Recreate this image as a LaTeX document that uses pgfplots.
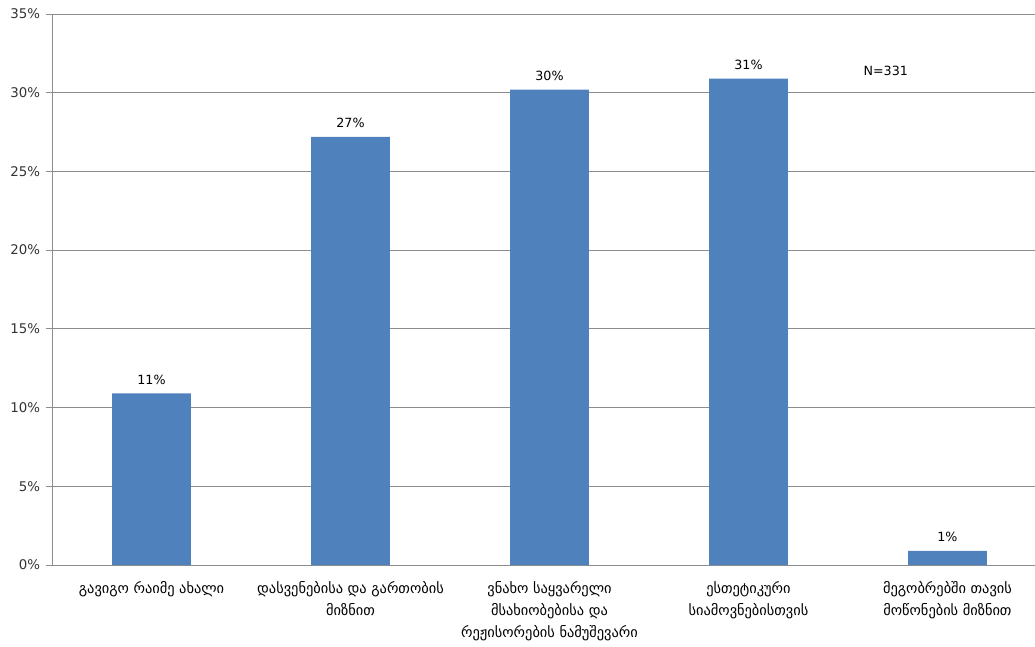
\documentclass[border=0pt]{standalone}
\usepackage{pgfplots}
\pgfplotsset{compat=1.18}
\usepackage{fontspec}
\setmainfont{DejaVu Sans}
\definecolor{barblue}{HTML}{4F81BD}
\definecolor{gridgray}{HTML}{8C8C8C}
\begin{document}
\begin{tikzpicture}
\useasboundingbox (-39pt,-60.75pt) rectangle (737.25pt,423.75pt);
\begin{axis}[
  at={(0,0)}, anchor=south west,
  scale only axis, width=737.25pt, height=413.25pt,
  xmin=-0.5, xmax=4.44, ymin=0, ymax=35,
  ytick={0,5,10,15,20,25,30,35},
  yticklabels={0\%,5\%,10\%,15\%,20\%,25\%,30\%,35\%},
  yticklabel style={font=\fontsize{10}{12}\selectfont, text=black!80, xshift=-1pt},
  ymajorgrids, grid style={gridgray, line width=0.6pt},
  axis x line*=bottom, axis y line*=left,
  axis line style={gridgray, line width=0.6pt},
  every tick/.style={gridgray, line width=0.6pt},
  tick align=outside, major tick length=4.5pt,
  xtick={0,1,2,3,4}, xtick style={draw=none},
  xticklabels={
    {გავიგო რაიმე ახალი},
    {დასვენებისა და გართობის\\მიზნით},
    {ვნახო საყვარელი\\მსახიობებისა და\\რეჟისორების ნამუშევარი},
    {ესთეტიკური\\სიამოვნებისთვის},
    {მეგობრებში თავის\\მოწონების მიზნით}},
  xticklabel style={align=center, font=\fontsize{10.8}{16.5}\selectfont, yshift=-4pt},
  clip=false,
]
\addplot[ybar, fill=barblue, draw=none, bar width=59pt,
  nodes near coords, point meta=explicit symbolic,
  every node near coord/.append style={font=\fontsize{9.5}{11}\selectfont, yshift=3pt}]
  coordinates {(0,10.9)[11\%] (1,27.2)[27\%] (2,30.2)[30\%] (3,30.9)[31\%] (4,0.9)[1\%]};
\node[font=\fontsize{9.5}{11}\selectfont] at (axis cs:3.69,31.4) {N=331};
\end{axis}
\end{tikzpicture}
\end{document}
